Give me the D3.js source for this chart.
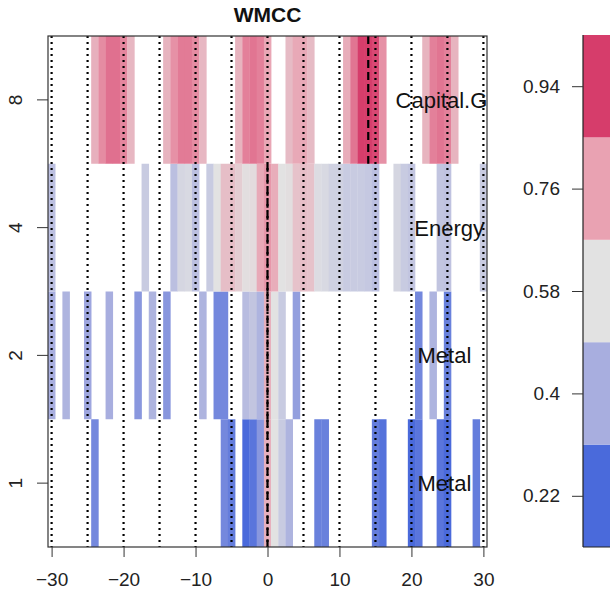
<!DOCTYPE html>
<html><head><meta charset="utf-8">
<script src="https://cdn.jsdelivr.net/npm/d3@7"></script>
<style>
body{margin:0;background:#fff;}
svg{display:block;font-family:"Liberation Sans",Arial,Helvetica,sans-serif;}
</style>
</head><body>
<svg id="chart" width="610" height="592"></svg>
<script>
// ---------- data ----------
const lags = d3.range(-30, 31);            // lag categories -30..30
const levels = [1, 2, 4, 8];               // wavelet scales (rows)
const seriesNames = ["Metal", "Metal", "Energy", "Capital.G"];
const title = "WMCC";

// correlation values per lag (-30..30); null = not shown (white)
const valsL1 = [null,null,null,null,null,null, 0.30,
  null,null,null,null,null,null,null,null,null,null,null,null,null,null,null,null,null,
  0.30,0.27, null, 0.20,0.25,0.34,0.72,0.58,0.50,0.42, null,null,null, 0.28,0.28,
  null,null,null,null,null,null, 0.27,0.24, null,null,null, 0.22,0.25, null,null,
  0.25,0.22, null,null,null, 0.27, null];
const valsL2 = [0.40, null, 0.42, null,null, 0.38, null,null, 0.40, null,null,null,
  0.34, null, 0.42, null, 0.34, null,null,null,null, 0.42, null, 0.30,0.30, null,null,
  0.45,0.48,0.42,0.72,0.58,0.50, null, 0.36,
  null,null,null,null,null,null,null,null,null,null,null,null,null,null,null,null,
  0.30, null, 0.42, null, 0.28, null,null,null,null,null];
const valsL4 = [0.46, null,null,null,null,null,null,null,null,null,null,null,null,
  0.50, null,null,null, 0.46,0.54,0.55,0.46, null,
  0.50,0.58,0.68,0.68,0.64,0.59,0.60,0.74,0.78,0.73,0.58,0.59,0.67,0.68,0.67,0.56,0.55,
  0.52,0.52,0.50,0.50,0.50,0.49,0.46, null,null, 0.54,0.50,0.48, null,null,null,
  0.48,0.47, null,null,null,null, 0.50];
const valsL8 = [null,null,null,null,null,null, 0.72,0.80,0.85,0.85,0.81,0.70,
  null,null,null,null, 0.71,0.79,0.83,0.83,0.80,0.70, null,null,null,null,
  0.71,0.82,0.84,0.82,0.75, null,null, 0.69,0.74,0.74,0.69, null,null,null,null,
  0.73,0.84,0.94,0.96,0.92,0.79, null,null,null,null,null,
  0.71,0.82,0.84,0.82,0.71, null,null,null,null];
const rowValues = [valsL1, valsL2, valsL4, valsL8];
const peakLag = [0, 0, 0, 14];             // lag of max correlation per row (dashed)
const labelLag = [20.85, 20.85, 20.4, 17.8];// label start, in lag units

const guideLags = [-30,-25,-20,-15,-10,-5,0,5,10,15,20,25,30];
const xTicks = [-30,-20,-10,0,10,20,30];
const yTicks = [1,2,4,8];
const legendTicks = [0.22, 0.40, 0.58, 0.76, 0.94];
const legendColors = ["#4A6ADB","#A8AEDF","#E2E2E2","#E9A2B2","#D63D6B"];
const legendStep = 0.18;

// ---------- layout ----------
const svg = d3.select("#chart");
const P = {left:48, right:487, top:36, bottom:547};

const x = d3.scaleLinear().domain([-30.5, 30.5]).range([P.left, P.right]);
const y = d3.scaleLog().base(2).domain([Math.SQRT1_2, 8*Math.SQRT2]).range([P.bottom, P.top]);
const color = d3.scaleLinear().domain(legendTicks).range(legendColors)
  .interpolate(d3.interpolateRgb).clamp(true);

svg.append("defs").append("clipPath").attr("id","plotclip")
  .append("rect").attr("x",P.left).attr("y",P.top)
  .attr("width",P.right-P.left).attr("height",P.bottom-P.top);

const plot = svg.append("g").attr("clip-path","url(#plotclip)");

// cells
const cells = [];
levels.forEach((L,i)=>{
  rowValues[i].forEach((v,j)=>{ if(v!==null) cells.push({L, lag:lags[j], v}); });
});
plot.selectAll("rect.cell").data(cells).join("rect").attr("class","cell")
  .attr("x", d=>x(d.lag-0.5))
  .attr("width", d=>x(d.lag+0.5)-x(d.lag-0.5)+0.3)
  .attr("y", d=>y(d.L*Math.SQRT2))
  .attr("height", d=>y(d.L/Math.SQRT2)-y(d.L*Math.SQRT2))
  .attr("fill", d=>color(d.v));

// dotted guide lines
plot.selectAll("line.guide").data(guideLags).join("line").attr("class","guide")
  .attr("x1",d=>x(d)).attr("x2",d=>x(d))
  .attr("y1",P.top).attr("y2",P.bottom)
  .attr("stroke","#000").attr("stroke-width",2.2).attr("stroke-dasharray","2,4");

// dashed peak lines per row
plot.selectAll("line.peak").data(levels).join("line").attr("class","peak")
  .attr("x1",(d,i)=>x(peakLag[i])).attr("x2",(d,i)=>x(peakLag[i]))
  .attr("y1",d=>y(d*Math.SQRT2)).attr("y2",d=>y(d/Math.SQRT2))
  .attr("stroke","#000").attr("stroke-width",2.2).attr("stroke-dasharray","8,4");

// row labels
plot.selectAll("text.rowlab").data(levels).join("text").attr("class","rowlab")
  .attr("x",(d,i)=>x(labelLag[i])).attr("y",d=>y(d))
  .attr("dy","0.36em").attr("font-size",22).attr("fill","#111")
  .text((d,i)=>seriesNames[i]);

// box
svg.append("rect").attr("x",P.left).attr("y",P.top)
  .attr("width",P.right-P.left).attr("height",P.bottom-P.top)
  .attr("fill","none").attr("stroke","#333").attr("stroke-width",1.2);

// x axis
const xa = svg.append("g").attr("transform",`translate(0,${P.bottom})`)
  .call(d3.axisBottom(x).tickValues(xTicks).tickSize(10).tickPadding(16).tickFormat(d3.format("d")));
xa.select(".domain").remove();
xa.selectAll("line").attr("stroke","#333");
xa.selectAll("text").attr("font-size",19).attr("fill","#222")
  .attr("font-family","'Liberation Sans',Arial,sans-serif");

// y axis (custom rotated labels)
const ya = svg.append("g");
ya.selectAll("line").data(yTicks).join("line")
  .attr("x1",P.left-11).attr("x2",P.left).attr("y1",d=>y(d)).attr("y2",d=>y(d))
  .attr("stroke","#333");
ya.selectAll("text").data(yTicks).join("text")
  .attr("transform",d=>`translate(21.5,${y(d)}) rotate(-90)`)
  .attr("text-anchor","middle").attr("font-size",19).attr("fill","#222")
  .text(d=>d);

// title
svg.append("text").attr("x",(P.left+P.right)/2).attr("y",22)
  .attr("text-anchor","middle").attr("font-weight","bold").attr("font-size",21)
  .attr("fill","#111").text(title);

// ---------- colour legend ----------
const lg = {left:583, right:660, top:35, bottom:547};
const ly = d3.scaleLinear()
  .domain([legendTicks[0]-legendStep/2, legendTicks[legendTicks.length-1]+legendStep/2])
  .range([lg.bottom, lg.top]);
svg.selectAll("rect.leg").data(legendTicks).join("rect").attr("class","leg")
  .attr("x",lg.left).attr("width",lg.right-lg.left)
  .attr("y",d=>ly(d+legendStep/2)).attr("height",d=>ly(d-legendStep/2)-ly(d+legendStep/2))
  .attr("fill",(d,i)=>legendColors[i]);
svg.append("line").attr("x1",lg.left).attr("x2",lg.left).attr("y1",lg.top).attr("y2",lg.bottom)
  .attr("stroke","#222").attr("stroke-width",1.2);
svg.append("line").attr("x1",lg.left).attr("x2",lg.right).attr("y1",lg.bottom).attr("y2",lg.bottom)
  .attr("stroke","#222").attr("stroke-width",1.2);
const la = svg.append("g").attr("transform",`translate(${lg.left},0)`)
  .call(d3.axisLeft(ly).tickValues(legendTicks).tickSize(11).tickPadding(12).tickFormat(d=>String(d)));
la.select(".domain").remove();
la.selectAll("line").attr("stroke","#333");
la.selectAll("text").attr("font-size",19).attr("fill","#222")
  .attr("font-family","'Liberation Sans',Arial,sans-serif");
</script>
</body></html>
